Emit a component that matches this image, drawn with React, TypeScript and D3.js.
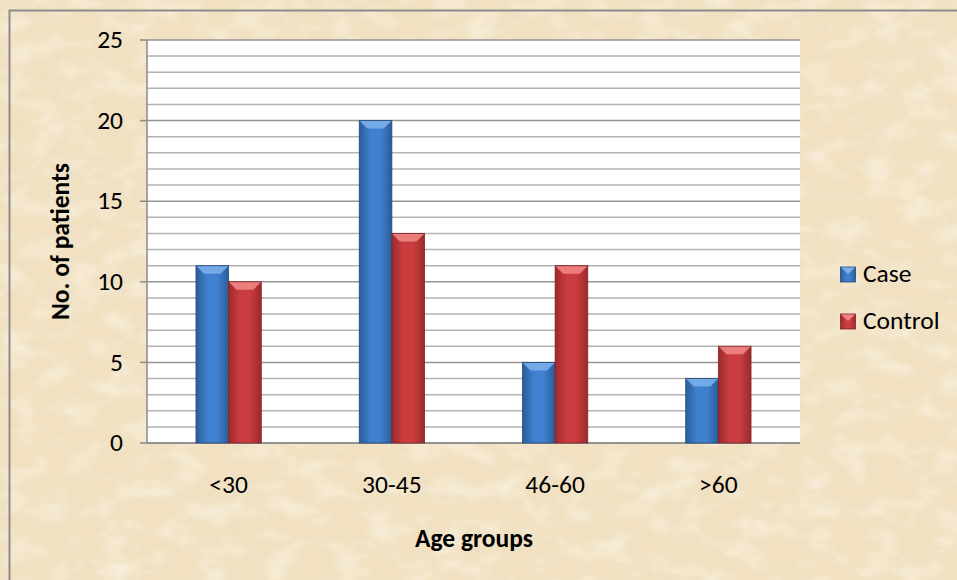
import React from "react";
import * as d3 from "d3";

const categories = ["<30", "30-45", "46-60", ">60"];
const seriesNames = ["Case", "Control"];
const caseValues = [11, 20, 5, 4];
const controlValues = [10, 13, 11, 6];
const yTicks = [0, 5, 10, 15, 20, 25];

const W = 957;
const H = 580;
const M = { left: 147, right: 800, top: 40, bottom: 443 };
const FONT = "Carlito, Calibri, 'Open Sans', 'Noto Sans', sans-serif";
const FS = 25.5;

const palettes = [
  { edge: "#2b5c98", mid: "#3f80cf", bevel: "#79aee9", stroke: "#24497a" },
  { edge: "#9c2a2c", mid: "#cb3c3e", bevel: "#ef8585", stroke: "#7e2224" },
];

export default function App() {
  const x = d3
    .scaleBand<string>()
    .domain(categories)
    .range([M.left, M.right])
    .paddingInner(0.6)
    .paddingOuter(0.3);
  const xs = d3.scaleBand<string>().domain(seriesNames).range([0, x.bandwidth()]);
  const y = d3.scaleLinear().domain([0, 25]).range([M.bottom, M.top]);
  const minor = d3.range(0, 26, 1);
  const series = [caseValues, controlValues];

  return (
    <svg
      width={W}
      height={H}
      style={{ position: "absolute", left: 0, top: 0 }}
      fontFamily={FONT}
    >
      <defs>
        <filter id="paper" x="0" y="0" width="100%" height="100%">
          <feTurbulence type="fractalNoise" baseFrequency="0.008 0.014" numOctaves="4" seed="11" result="n" />
          <feColorMatrix
            in="n"
            type="matrix"
            values="0 0 0 0 0.86  0 0 0 0 0.75  0 0 0 0 0.55  0 0 0 -2.2 1.35"
          />
        </filter>
        <filter id="paper2" x="0" y="0" width="100%" height="100%">
          <feTurbulence type="fractalNoise" baseFrequency="0.03 0.05" numOctaves="3" seed="3" result="n" />
          <feColorMatrix
            in="n"
            type="matrix"
            values="0 0 0 0 0.98  0 0 0 0 0.95  0 0 0 0 0.86  0 0 0 2.4 -1.1"
          />
        </filter>
        {palettes.map((p, i) => (
          <linearGradient key={i} id={`g${i}`} x1="0" x2="1" y1="0" y2="0">
            <stop offset="0" stopColor={p.edge} />
            <stop offset="0.35" stopColor={p.mid} />
            <stop offset="0.65" stopColor={p.mid} />
            <stop offset="1" stopColor={p.edge} />
          </linearGradient>
        ))}
      </defs>
      <rect x={0} y={0} width={W} height={H} fill="#f1e1c2" />
      <rect x={0} y={0} width={W} height={H} filter="url(#paper)" opacity={0.42} />
      <rect x={0} y={0} width={W} height={H} filter="url(#paper2)" opacity={0.5} />
      <rect x={9.5} y={10.5} width={W + 20} height={H + 20} fill="none" stroke="#8c8c8c" strokeWidth={2} />

      <rect x={M.left} y={M.top} width={M.right - M.left} height={M.bottom - M.top} fill="#ffffff" />
      {minor.map((v) => (
        <line
          key={v}
          x1={M.left}
          x2={M.right}
          y1={y(v)}
          y2={y(v)}
          stroke={v % 5 === 0 ? "#959595" : "#b3b3b3"}
          strokeWidth={1.5}
        />
      ))}
      <line x1={M.left} x2={M.left} y1={M.top} y2={M.bottom} stroke="#8a8a8a" strokeWidth={1.5} />
      <line x1={M.left} x2={M.right} y1={M.bottom} y2={M.bottom} stroke="#8a8a8a" strokeWidth={1.5} />
      {yTicks.map((t) => (
        <g key={t}>
          <line x1={M.left - 7} x2={M.left} y1={y(t)} y2={y(t)} stroke="#8a8a8a" strokeWidth={1.5} />
          <text x={123} y={y(t)} dy="0.32em" textAnchor="end" fontSize={FS} fill="#000">
            {t}
          </text>
        </g>
      ))}

      {categories.map((c, ci) =>
        series.map((vals, si) => {
          const bx = (x(c) as number) + (xs(seriesNames[si]) as number);
          const bw = xs.bandwidth();
          const by = y(vals[ci]);
          const bh = M.bottom - by;
          const p = palettes[si];
          const b = Math.min(8, bh / 2);
          return (
            <g key={`${c}-${si}`}>
              <rect x={bx} y={by} width={bw} height={bh} fill={`url(#g${si})`} stroke={p.stroke} strokeWidth={0.8} />
              <polygon
                points={`${bx + 0.5},${by + 0.5} ${bx + bw - 0.5},${by + 0.5} ${bx + bw - b},${by + b} ${bx + b},${by + b}`}
                fill={p.bevel}
                opacity={0.9}
              />
            </g>
          );
        })
      )}

      {categories.map((c) => (
        <text
          key={c}
          x={(x(c) as number) + x.bandwidth() / 2}
          y={493}
          textAnchor="middle"
          fontSize={FS}
          fill="#000"
        >
          {c}
        </text>
      ))}

      <text x={474} y={547} textAnchor="middle" fontSize={FS} fontWeight="bold" fill="#000">
        Age groups
      </text>
      <text
        transform={`translate(69, ${(M.top + M.bottom) / 2}) rotate(-90)`}
        textAnchor="middle"
        fontSize={FS}
        fontWeight="bold"
        fill="#000"
      >
        No. of patients
      </text>

      {seriesNames.map((s, i) => {
        const ly = 274 + i * 47;
        const p = palettes[i];
        return (
          <g key={s}>
            <rect x={840.5} y={ly - 7} width={15} height={15} fill={`url(#g${i})`} stroke={p.stroke} strokeWidth={0.8} />
            <polygon points={`${841},${ly - 6.5} ${855},${ly - 6.5} ${848},${ly}`} fill={p.bevel} />
            <text x={863} y={ly + 8} fontSize={FS} fill="#000">
              {s}
            </text>
          </g>
        );
      })}
    </svg>
  );
}
